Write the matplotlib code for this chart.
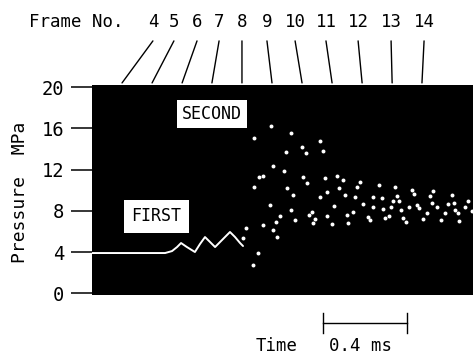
import matplotlib.pyplot as plt

plt.rcParams['font.family'] = ['DejaVu Sans Mono', 'DejaVu Sans']

# first shot: continuous trace, time in ms, pressure in MPa
first_t = [0.0, 0.348, 0.381, 0.405, 0.424, 0.452, 0.490, 0.514, 0.538, 0.562,
           0.586, 0.619, 0.657, 0.681, 0.705, 0.719]
first_p = [3.91, 3.91, 4.10, 4.49, 4.88, 4.49, 4.01, 4.78, 5.46, 4.98,
           4.49, 5.17, 5.95, 5.46, 4.88, 4.59]

# second shot: only the dots of the beam survive on the film
second_t = [0.852, 0.948, 0.771, 1.086, 1.000, 0.924, 1.019, 1.100, 0.862, 0.914,
            0.814, 0.795, 1.005, 1.024, 1.110, 1.167, 1.195, 1.176, 0.771, 0.929,
            0.957, 1.086, 1.119, 1.205,
            0.848, 0.948, 1.048, 1.033, 1.062, 1.152, 1.119, 1.214, 0.895, 0.876,
            0.967, 1.052, 1.143, 1.219, 0.814, 0.862, 0.733, 0.881, 0.719, 0.790,
            0.767,
            1.276, 1.262, 1.367, 1.443, 1.524, 1.533, 1.624, 1.610, 1.714, 1.790,
            1.252, 1.338, 1.381, 1.452, 1.433, 1.462, 1.290, 1.338, 1.386, 1.424,
            1.471, 1.510, 1.548, 1.557, 1.619, 1.643, 1.695, 1.724, 1.776, 1.810,
            1.595, 1.681, 1.729, 1.743, 1.243, 1.314, 1.324, 1.395, 1.414, 1.481,
            1.495, 1.576, 1.662, 1.748]
second_p = [16.23, 15.55, 15.06, 14.77, 14.19, 13.71, 13.61, 13.80, 12.35, 11.86,
            11.38, 11.28, 11.28, 10.70, 11.18, 11.38, 10.99, 10.21, 10.31, 10.21,
            9.53, 9.34, 9.83, 9.53,
            8.56, 8.08, 7.89, 7.59, 7.21, 8.47, 7.50, 7.59, 7.50, 6.92,
            7.11, 6.82, 6.72, 6.82, 6.62, 6.14, 6.33, 5.46, 5.36, 3.91,
            2.74,
            10.80, 10.31, 10.50, 10.31, 10.02, 9.63, 9.92, 9.44, 9.53, 8.95,
            9.34, 9.34, 9.24, 9.44, 8.95, 8.95, 8.66, 8.37, 8.18, 8.37,
            8.08, 8.37, 8.56, 8.27, 8.76, 8.37, 8.66, 8.76, 8.37, 7.98,
            7.79, 7.79, 8.08, 7.79, 7.89, 7.40, 7.11, 7.30, 7.50, 7.30,
            6.92, 7.21, 7.11, 7.01]

# camera frames (7000 frames/s), time of each frame in ms
frame_numbers = [4, 5, 6, 7, 8, 9, 10, 11, 12, 13, 14]
frame_times = [0.143, 0.286, 0.429, 0.571, 0.714, 0.857, 1.000, 1.143, 1.286, 1.429, 1.571]
frame_label_x = [0.290, 0.390, 0.500, 0.605, 0.714, 0.833, 0.967, 1.114, 1.267, 1.424, 1.581]

yticks = [0, 4, 8, 12, 16, 20]

fig = plt.figure(figsize=(4.73, 3.56), dpi=100)
ax = fig.add_axes([0.1945, 0.1713, 0.8055, 0.5899])
ax.set_facecolor('black')
ax.set_xlim(0, 1.814)
ax.set_ylim(-0.16, 20.2)

ax.plot(first_t, first_p, color='white', lw=1.4, solid_capstyle='round')
ax.scatter(second_t, second_p, s=8, color='white', linewidths=0)

for s in ax.spines.values():
    s.set_visible(False)
ax.set_xticks([])
ax.set_yticks(yticks)
ax.tick_params(axis='y', length=15, width=1.1, pad=5, labelsize=13.5, color='black')
ax.set_ylabel('Pressure  MPa', fontsize=13)
ax.yaxis.set_label_coords(-0.165, 0.49)

# frame markers above the record
top = ('data', 'axes fraction')
xt = ax.get_xaxis_transform()
ax.text(0.152, 1.30, 'Frame No.', transform=xt, ha='right', va='center', fontsize=12.5)
for n, t, lx in zip(frame_numbers, frame_times, frame_label_x):
    ax.annotate('', xy=(t, 1.01), xytext=(lx, 1.21), xycoords=top, textcoords=top,
                arrowprops=dict(arrowstyle='-', lw=1.0, color='black', shrinkA=0, shrinkB=0))
    ax.text(lx, 1.30, str(n), transform=xt, ha='center', va='center', fontsize=12.5)

# shot labels
ax.text(0.571, 0.862, 'SECOND', transform=xt, ha='center', va='center', fontsize=12,
        bbox=dict(boxstyle='square,pad=0.3', facecolor='white', edgecolor='none'))
ax.text(0.305, 0.376, 'FIRST', transform=xt, ha='center', va='center', fontsize=12,
        bbox=dict(boxstyle='square,pad=0.45', facecolor='white', edgecolor='none'))

# time scale bar
ax.plot([1.10, 1.50], [-0.133, -0.133], transform=xt, color='black', lw=1.0, clip_on=False)
for x in (1.10, 1.50):
    ax.plot([x, x], [-0.086, -0.181], transform=xt, color='black', lw=1.0, clip_on=False)
ax.text(0.881, -0.243, 'Time', transform=xt, ha='center', va='center', fontsize=12.5)
ax.text(1.276, -0.243, '0.4 ms', transform=xt, ha='center', va='center', fontsize=12.5)

fig.savefig('out.png', dpi=100)
